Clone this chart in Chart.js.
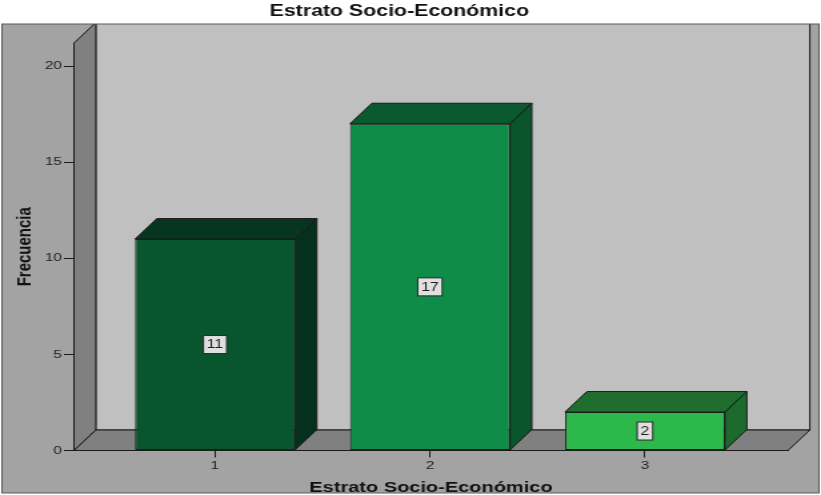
<!DOCTYPE html>
<html>
<head>
<meta charset="utf-8">
<title>Estrato Socio-Económico</title>
<script src="https://cdn.jsdelivr.net/npm/chart.js@4.4.0/dist/chart.umd.min.js"></script>
<style>
  html, body { margin: 0; padding: 0; background: #fff; overflow: hidden; }
  /* chart is drawn narrow and widened, like the exported SPSS picture */
  #chart { display: block; transform: scaleX(1.3328); transform-origin: 0 0; }
</style>
</head>
<body>
<canvas id="chart" width="616" height="495"></canvas>
<script>
const categories = ['1', '2', '3'];
const catPos = [1, 2, 3];
const counts = [11, 17, 2];
const yTicks = [0, 5, 10, 15, 20];

const frontColors = ['#08552e', '#0f8c48', '#2db84b'];
const topColors = ['#073620', '#0b5a2f', '#1f6e2e'];
const sideColors = ['#05301d', '#0a552c', '#1c6b2c'];

const FONT = "'Liberation Sans', Arial, sans-serif";
const EDGE = '#1b1b1b';
const DX = 16.4, DY = 20.5; // depth of the 3d boxes
const FRAME = { left: 1.5, top: 24, right: 614.5, bottom: 493 };

function poly(ctx, pts, fill) {
    ctx.beginPath();
    ctx.moveTo(pts[0][0], pts[0][1]);
    for (let i = 1; i < pts.length; i++) ctx.lineTo(pts[i][0], pts[i][1]);
    ctx.closePath();
    ctx.fillStyle = fill;
    ctx.fill();
    ctx.stroke();
}

const box3d = {
    id: 'box3d',
    beforeDraw(chart) {
        const { ctx, chartArea: a } = chart;
        ctx.save();
        ctx.fillStyle = '#fff';
        ctx.fillRect(0, 0, chart.width, chart.height);
        ctx.fillStyle = '#a3a3a3';
        ctx.fillRect(FRAME.left, FRAME.top, FRAME.right - FRAME.left, FRAME.bottom - FRAME.top);
        ctx.beginPath();
        ctx.rect(FRAME.left, FRAME.top, FRAME.right - FRAME.left, FRAME.bottom - FRAME.top);
        ctx.clip();
        ctx.strokeStyle = EDGE;
        ctx.lineWidth = 1;
        // back wall, side wall, floor
        poly(ctx, [[a.left + DX, a.top - DY], [a.right + DX, a.top - DY], [a.right + DX, a.bottom - DY], [a.left + DX, a.bottom - DY]], '#c0c0c0');
        poly(ctx, [[a.left, a.top], [a.left + DX, a.top - DY], [a.left + DX, a.bottom - DY], [a.left, a.bottom]], '#808080');
        poly(ctx, [[a.left, a.bottom], [a.left + DX, a.bottom - DY], [a.right + DX, a.bottom - DY], [a.right, a.bottom]], '#808080');
        ctx.restore();
    },
    afterDatasetsDraw(chart) {
        const { ctx } = chart;
        const meta = chart.getDatasetMeta(0);
        ctx.save();
        ctx.strokeStyle = EDGE;
        ctx.lineWidth = 1;
        meta.data.forEach((bar, i) => {
            const { x, y, base, width } = bar.getProps(['x', 'y', 'base', 'width'], true);
            const l = x - width / 2, r = x + width / 2;
            poly(ctx, [[l, y], [l + DX, y - DY], [r + DX, y - DY], [r, y]], topColors[i]);
            poly(ctx, [[r, y], [r + DX, y - DY], [r + DX, base - DY], [r, base]], sideColors[i]);

            // value tag in the middle of the front face
            const txt = String(counts[i]);
            ctx.font = `12px ${FONT}`;
            const w = ctx.measureText(txt).width + 5, h = 18;
            const cy = (y + base) / 2;
            ctx.fillStyle = '#e0e0e0';
            ctx.strokeStyle = '#2a2a2a';
            ctx.fillRect(x - w / 2, cy - h / 2, w, h);
            ctx.strokeRect(x - w / 2, cy - h / 2, w, h);
            ctx.fillStyle = '#1e1e1e';
            ctx.textAlign = 'center';
            ctx.textBaseline = 'middle';
            ctx.fillText(txt, x, cy + 0.5);
            ctx.strokeStyle = EDGE;
        });
        ctx.restore();
    },
    afterDraw(chart) {
        const { ctx } = chart;
        ctx.save();
        ctx.strokeStyle = '#5a5a5a';
        ctx.lineWidth = 1;
        ctx.strokeRect(FRAME.left, FRAME.top, FRAME.right - FRAME.left, FRAME.bottom - FRAME.top);
        ctx.restore();
    }
};

new Chart(document.getElementById('chart'), {
    type: 'bar',
    data: {
        datasets: [{
            data: catPos.map((p, i) => ({ x: p, y: counts[i] })),
            backgroundColor: frontColors,
            borderColor: EDGE,
            borderWidth: 1,
            borderSkipped: false,
            barPercentage: 0.744,
            categoryPercentage: 1
        }]
    },
    options: {
        responsive: false,
        devicePixelRatio: 1,
        animation: false,
        layout: { padding: { left: 8, right: 24.8, top: 0, bottom: 0 } },
        plugins: {
            legend: { display: false },
            tooltip: { enabled: false },
            title: {
                display: true,
                text: 'Estrato Socio-Económico',
                color: '#111',
                font: { family: FONT, size: 16, weight: 'bold' },
                padding: { top: 2, bottom: 21.8 }
            }
        },
        scales: {
            x: {
                type: 'linear',
                offset: false,
                min: 0.344,
                max: 3.665,
                afterBuildTicks: s => { s.ticks = catPos.map(v => ({ value: v })); },
                afterFit: s => { s.height = 44.5; },
                grid: { offset: false, drawOnChartArea: false, tickLength: 7, color: EDGE },
                border: { display: true, color: EDGE },
                ticks: {
                    callback: v => categories[catPos.indexOf(v)],
                    padding: 1,
                    color: '#222',
                    maxRotation: 0,
                    font: { family: FONT, size: 11.5 }
                },
                title: {
                    display: true,
                    text: 'Estrato Socio-Económico',
                    color: '#111',
                    font: { family: FONT, size: 15, weight: 'bold', lineHeight: 1 },
                    padding: { top: 0, bottom: -0.5 }
                }
            },
            y: {
                min: 0,
                max: 21.2,
                afterBuildTicks: s => { s.ticks = yTicks.map(v => ({ value: v })); },
                afterFit: s => { s.width = 47.5; },
                grid: { drawOnChartArea: false, tickLength: 7.5, color: EDGE },
                border: { display: true, color: EDGE },
                ticks: {
                    padding: 1.5,
                    color: '#222',
                    font: { family: FONT, size: 11.5 }
                },
                title: {
                    display: true,
                    text: 'Frecuencia',
                    color: '#111',
                    font: { family: FONT, size: 15, weight: 'bold', lineHeight: 1 },
                    padding: { top: 3, bottom: 0 }
                }
            }
        }
    },
    plugins: [box3d]
});
</script>
</body>
</html>
